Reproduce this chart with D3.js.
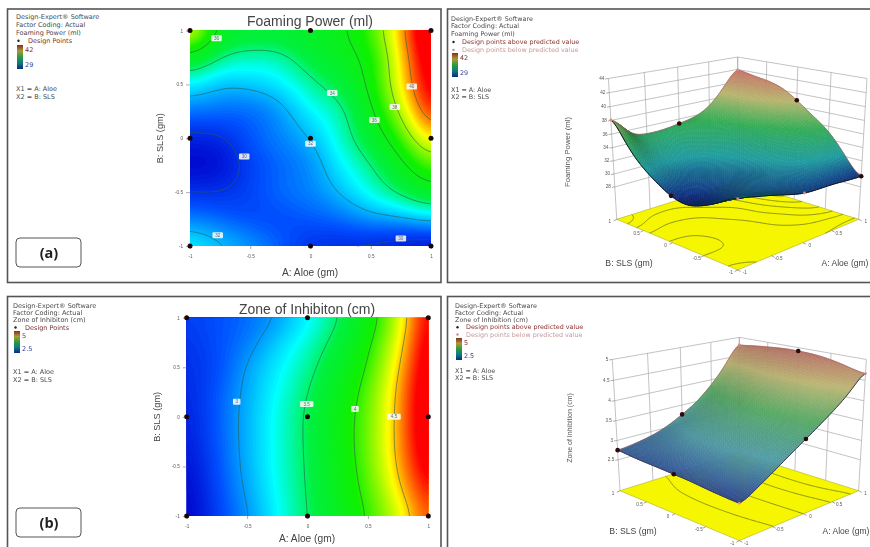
<!DOCTYPE html>
<html>
<head>
<meta charset="utf-8">
<script src="https://cdn.jsdelivr.net/npm/d3@7"></script>
<style>
html, body { margin: 0; padding: 0; background: #fff; }
svg { display: block; filter: blur(0.5px); font-family: "Liberation Sans", Arial, sans-serif; }
</style>
</head>
<body>
<svg id="fig" width="870" height="547"></svg>
<script>
var svg = d3.select("#fig");

// rows run from B = 1 (top) to B = -1, columns from A = -1 to A = 1
const foamGrid = [
  [39.5, 35.7, 35.2, 35.2, 35.4, 35.8, 37.1, 39.6, 42.6],
  [35.6, 33.9, 33.5, 33.6, 34.8, 35.5, 36.4, 39.2, 42.0],
  [32.9, 32.1, 32.3, 32.7, 33.7, 34.7, 36.3, 39.0, 41.6],
  [31.1, 31.0, 30.9, 31.6, 32.9, 33.6, 35.8, 38.2, 41.0],
  [29.7, 29.8, 30.7, 31.3, 32.0, 33.4, 35.0, 37.0, 39.4],
  [29.2, 29.3, 30.3, 30.9, 31.4, 32.8, 33.9, 35.6, 37.4],
  [30.0, 30.0, 30.4, 31.0, 31.3, 32.1, 33.2, 34.3, 35.5],
  [31.3, 30.9, 30.5, 30.5, 30.7, 31.0, 31.6, 31.8, 32.4],
  [33.0, 32.3, 31.7, 30.8, 30.0, 29.8, 29.6, 29.3, 29.0]
];
const zoneGrid = [
  [2.75, 2.80, 2.88, 3.00, 3.23, 3.47, 3.85, 4.30, 4.90],
  [2.70, 2.80, 2.92, 3.14, 3.33, 3.60, 3.95, 4.38, 4.95],
  [2.68, 2.78, 3.02, 3.22, 3.42, 3.70, 4.02, 4.47, 4.97],
  [2.65, 2.82, 3.05, 3.27, 3.49, 3.78, 4.10, 4.53, 5.00],
  [2.62, 2.83, 3.07, 3.30, 3.53, 3.84, 4.13, 4.55, 5.00],
  [2.60, 2.82, 3.07, 3.30, 3.53, 3.84, 4.14, 4.55, 4.98],
  [2.55, 2.80, 3.06, 3.30, 3.52, 3.82, 4.12, 4.52, 4.92],
  [2.52, 2.77, 3.03, 3.28, 3.51, 3.80, 4.07, 4.44, 4.82],
  [2.50, 2.74, 2.98, 3.25, 3.50, 3.75, 4.02, 4.32, 4.72]
];
const foamLevels = [30, 32, 34, 36, 38, 40];
const zoneLevels = [3, 3.5, 4, 4.5];
const axisTicks = [-1, -0.5, 0, 0.5, 1];
const foamZTicks = [28, 30, 32, 34, 36, 38, 40, 42, 44];
const zoneZTicks = [2.5, 3, 3.5, 4, 4.5, 5];

// contour labels
const foamLabelA = [-0.78, 0.18, 0.84, 0.70, 0.53, 0, -0.55, -0.77, 0.75];
const foamLabelB = [0.93, 0.42, 0.48, 0.29, 0.17, -0.05, -0.17, -0.90, -0.93];
const foamLabelT = ["36", "34", "40", "38", "36", "32", "30", "32", "30"];
const zoneLabelA = [-0.586, -0.007, 0.393, 0.716];
const zoneLabelB = [0.153, 0.13, 0.08, 0];
const zoneLabelT = ["3", "3.5", "4", "4.5"];

// design points
const designA = [-1, 0, 1, -1, 0, 1, -1, 0, 1];
const designB = [1, 1, 1, 0, 0, 0, -1, -1, -1];
const foamAbove = [0, 1, 0, 1, 0, 1, 0, 0, 1];
const zoneAbove = [1, 1, 0, 1, 0, 1, 0, 1, 0];

const mapOffsets = [0, 0.12, 0.3, 0.42, 0.58, 0.76, 0.92, 1];
const mapStops = ["#0000c8", "#0050ff", "#00ffff", "#00f040", "#10f000", "#ffff00", "#ff0000", "#ff0000"];
const surfOffsets = [0, 0.25, 0.5, 0.75, 1];
const foamSurfStops = ["#0a1670", "#1b8a8e", "#2b9a4c", "#a3a262", "#b0655c"];
const zoneSurfStops = ["#2a3f8c", "#4a8e98", "#4f9a5c", "#a8a268", "#a5605c"];

const fieldSize = 130;

function catmull(p0, p1, p2, p3, t) {
  return 0.5 * (2 * p1 + (p2 - p0) * t + (2 * p0 - 5 * p1 + 4 * p2 - p3) * t * t + (3 * p1 - p0 - 3 * p2 + p3) * t * t * t);
}

// smooth reading of a grid at (a, b)
function sample(grid, a, b) {
  var n = grid.length - 1;
  var c = Math.min(Math.max((a + 1) / 2 * n, 0), n);
  var r = Math.min(Math.max((1 - b) / 2 * n, 0), n);
  var c1 = Math.min(Math.floor(c), n - 1), r1 = Math.min(Math.floor(r), n - 1);
  var tx = c - c1, ty = r - r1;
  function g(i, j) { return grid[Math.min(Math.max(i, 0), n)][Math.min(Math.max(j, 0), n)]; }
  var rows = [-1, 0, 1, 2].map(k => catmull(g(r1 + k, c1 - 1), g(r1 + k, c1), g(r1 + k, c1 + 1), g(r1 + k, c1 + 2), tx));
  return catmull(rows[0], rows[1], rows[2], rows[3], ty);
}

// hand-read values wobble, so the drawing uses a blurred fine copy
function makeField(grid) {
  var n = fieldSize;
  var vals = new Float64Array(n * n);
  for (var j = 0; j < n; j++) {
    for (var i = 0; i < n; i++) {
      vals[j * n + i] = sample(grid, -1 + 2 * i / (n - 1), 1 - 2 * j / (n - 1));
    }
  }
  d3.blur2({ data: vals, width: n, height: n }, 6);
  var at = function (a, b) {
    var x = Math.min(Math.max((a + 1) / 2 * (n - 1), 0), n - 1);
    var y = Math.min(Math.max((1 - b) / 2 * (n - 1), 0), n - 1);
    var x0 = Math.min(Math.floor(x), n - 2), y0 = Math.min(Math.floor(y), n - 2);
    var tx = x - x0, ty = y - y0;
    return (vals[y0 * n + x0] * (1 - tx) + vals[y0 * n + x0 + 1] * tx) * (1 - ty) +
      (vals[(y0 + 1) * n + x0] * (1 - tx) + vals[(y0 + 1) * n + x0 + 1] * tx) * ty;
  };
  at.vals = Array.from(vals);
  return at;
}

function stopScale(lo, hi, offsets, stops) {
  return d3.scaleLinear().domain(offsets.map(o => lo + (hi - lo) * o)).range(stops).clamp(true);
}

function cellToAB(c) {
  var n = fieldSize;
  return [
    Math.min(Math.max(-1 + 2 * (c[0] - 0.5) / (n - 1), -1), 1),
    Math.min(Math.max(1 - 2 * (c[1] - 0.5) / (n - 1), -1), 1)
  ];
}

// iso lines of a contour set, leaving out the stretches along the plot edge
function isoLines(d, toScreen) {
  var out = "";
  d.coordinates.forEach(poly => poly.forEach(ring => {
    var pts = ring.map(cellToAB), cur = "";
    for (var i = 1; i < pts.length; i++) {
      var p = pts[i - 1], q = pts[i];
      if ((Math.abs(p[0]) === 1 && p[0] === q[0]) || (Math.abs(p[1]) === 1 && p[1] === q[1])) {
        out += cur; cur = ""; continue;
      }
      var s = toScreen(p[0], p[1]), e = toScreen(q[0], q[1]);
      if (!cur) cur = "M" + s[0] + "," + s[1];
      cur += "L" + e[0] + "," + e[1];
    }
    out += cur;
  }));
  return out;
}

function frame(x0, y0, x1, y1) {
  svg.append("rect").attr("x", x0).attr("y", y0).attr("width", x1 - x0).attr("height", y1 - y0)
    .attr("fill", "#fff").attr("stroke", "#555").attr("stroke-width", 1.6);
}

function sideNotes(cfg) {
  var g = svg.append("g").attr("transform", `translate(${cfg.x},0)`)
    .attr("font-family", "'DejaVu Sans', sans-serif").attr("font-size", cfg.size).attr("fill", "#4a4a4a");
  cfg.lines.forEach((t, i) => g.append("text").attr("y", cfg.y + i * cfg.gap).text(t));
  cfg.pointLines.forEach((p, i) => {
    var y = cfg.y + (cfg.lines.length + i) * cfg.gap;
    g.append("circle").attr("cx", 2.5).attr("cy", y - 2.2).attr("r", 1.2).attr("fill", p.dot);
    g.append("text").attr("x", cfg.pointX).attr("y", y).attr("fill", p.color).text(p.text);
  });
  var grad = svg.append("defs").append("linearGradient").attr("id", cfg.id)
    .attr("x1", 0).attr("y1", 0).attr("x2", 0).attr("y2", 1);
  ["#8e2a1a", "#a89a3a", "#2d9a3f", "#0f7a82", "#0b2a80"].forEach((c, i) =>
    grad.append("stop").attr("offset", i / 4).attr("stop-color", c));
  g.append("rect").attr("x", 1).attr("y", cfg.barY).attr("width", 6).attr("height", cfg.barH).attr("fill", `url(#${cfg.id})`);
  g.append("text").attr("x", 9).attr("y", cfg.barY + 6.5).attr("fill", "#7a3030").text(cfg.hi);
  g.append("text").attr("x", 9).attr("y", cfg.barY + cfg.barH - 2).attr("fill", "#33408a").text(cfg.lo);
  g.append("text").attr("y", cfg.factorY).text("X1 = A: Aloe");
  g.append("text").attr("y", cfg.factorY + 7.6).text("X2 = B: SLS");
}

function tagBox(x, y, label) {
  svg.append("rect").attr("x", x).attr("y", y).attr("width", 65).attr("height", 29).attr("rx", 4)
    .attr("fill", "#fff").attr("stroke", "#555").attr("stroke-width", 1);
  svg.append("text").attr("x", x + 33).attr("y", y + 20).attr("text-anchor", "middle")
    .attr("font-family", "'Open Sans', sans-serif").attr("font-weight", 700).attr("font-size", 14.5).attr("fill", "#222").text(label);
}

function tidyAxis(sel) {
  sel.select(".domain").remove();
  sel.selectAll(".tick line").attr("stroke", "#777").attr("stroke-width", 0.6);
  sel.selectAll(".tick text").attr("font-size", 4.6).attr("fill", "#555").attr("font-family", "inherit");
}

function contourMap(cfg) {
  var x = d3.scaleLinear().domain([-1, 1]).range(cfg.xRange);
  var y = d3.scaleLinear().domain([-1, 1]).range(cfg.yRange);
  var n = fieldSize;
  var field = makeField(cfg.grid);
  var color = stopScale(cfg.lo, cfg.hi, mapOffsets, mapStops);
  var toXY = (a, b) => [x(a), y(b)];
  var path = d3.geoPath(d3.geoTransform({
    point: function (cx, cy) {
      var ab = cellToAB([cx, cy]);
      this.stream.point(x(ab[0]), y(ab[1]));
    }
  }));
  var g = svg.append("g");

  g.append("rect").attr("x", x(-1)).attr("y", y(1)).attr("width", x(1) - x(-1)).attr("height", y(-1) - y(1)).attr("fill", color(cfg.lo));
  var bands = d3.range(cfg.lo, cfg.hi, (cfg.hi - cfg.lo) / 110);
  g.selectAll("path.band").data(d3.contours().size([n, n]).thresholds(bands)(field.vals)).enter().append("path")
    .attr("class", "band").attr("d", path).attr("fill", d => color(d.value));

  g.selectAll("path.level").data(d3.contours().size([n, n]).thresholds(cfg.levels)(field.vals)).enter().append("path")
    .attr("class", "level").attr("d", d => isoLines(d, toXY)).attr("fill", "none")
    .attr("stroke", "#2c5a46").attr("stroke-opacity", 0.75).attr("stroke-width", 0.8);

  g.append("g").attr("transform", `translate(0,${y(-1)})`)
    .call(d3.axisBottom(x).tickValues(axisTicks).tickSize(3).tickPadding(6).tickFormat(d => d))
    .call(tidyAxis);
  g.append("g").attr("transform", `translate(${x(-1)},0)`)
    .call(d3.axisLeft(y).tickValues(axisTicks).tickSize(4).tickPadding(3).tickFormat(d => d))
    .call(tidyAxis);

  cfg.labelT.forEach((t, i) => {
    var w = t.length * 3 + 4.5;
    g.append("rect").attr("x", x(cfg.labelA[i]) - w / 2).attr("y", y(cfg.labelB[i]) - 3).attr("width", w).attr("height", 6)
      .attr("rx", 1).attr("fill", "#fff").attr("fill-opacity", 0.85);
    g.append("text").attr("x", x(cfg.labelA[i])).attr("y", y(cfg.labelB[i]) + 1.6).attr("text-anchor", "middle")
      .attr("font-size", 4.6).attr("fill", "#667").text(t);
  });

  g.selectAll("circle").data(designA).enter().append("circle")
    .attr("cx", d => x(d)).attr("cy", (d, i) => y(designB[i])).attr("r", 2.5).attr("fill", "#1a0606");

  svg.append("text").attr("x", cfg.titleX).attr("y", cfg.titleY).attr("text-anchor", "middle")
    .attr("font-size", 14).attr("fill", "#444").text(cfg.title);
  svg.append("text").attr("x", cfg.titleX).attr("y", cfg.xLabelY).attr("text-anchor", "middle")
    .attr("font-size", 10.2).attr("fill", "#444").text("A: Aloe (gm)");
  svg.append("text").attr("transform", `translate(${cfg.yLabelX},${(cfg.yRange[0] + cfg.yRange[1]) / 2}) rotate(-90)`)
    .attr("text-anchor", "middle").attr("font-size", 9.2).attr("fill", "#444").text("B: SLS (gm)");
}

function surfacePlot(cfg) {
  var Z = d3.scaleLinear().domain([cfg.floor, cfg.top]).range([0, cfg.zt]);
  var S = Math.sin(cfg.elev), C = Math.cos(cfg.elev);
  var rt = Math.SQRT1_2;
  function project(a, b, z) {
    var X = (a - b) * rt, D = (a + b) * rt, h = Z(z);
    var w = cfg.dist + D * C - h * S;
    return [cfg.cx + cfg.f * X / w, cfg.cy - cfg.f * (h * C + D * S) / w];
  }
  var field = makeField(cfg.grid);
  var g = svg.append("g");
  var line = d3.line();

  // walls
  var wall = g.append("g").attr("fill", "none").attr("stroke", "#a9a9a9").attr("stroke-width", 0.7);
  axisTicks.forEach(t => {
    wall.append("path").attr("d", line([project(t, 1, cfg.floor), project(t, 1, cfg.top)]));
    wall.append("path").attr("d", line([project(1, t, cfg.floor), project(1, t, cfg.top)]));
  });
  cfg.zTicks.forEach(z => {
    wall.append("path").attr("d", line([project(-1, 1, z), project(1, 1, z), project(1, -1, z)]));
    var p = project(-1, 1, z);
    g.append("path").attr("d", line([p, [p[0] - 3, p[1] + 0.5]])).attr("stroke", "#777").attr("stroke-width", 0.6);
    g.append("text").attr("x", p[0] - 4).attr("y", p[1] + 1.5).attr("text-anchor", "end")
      .attr("font-size", 4.6).attr("fill", "#555").text(z);
  });

  // yellow floor with its contours
  g.append("path").attr("d", line([project(-1, 1, cfg.floor), project(1, 1, cfg.floor), project(1, -1, cfg.floor), project(-1, -1, cfg.floor)]) + "Z")
    .attr("fill", "#f6f600").attr("stroke", "#b9b92a").attr("stroke-width", 0.7);
  g.selectAll("path.iso").data(d3.contours().size([fieldSize, fieldSize]).thresholds(cfg.levels)(field.vals)).enter().append("path")
    .attr("class", "iso").attr("d", d => isoLines(d, (a, b) => project(a, b, cfg.floor))).attr("fill", "none")
    .attr("stroke", "#6e7a1c").attr("stroke-width", 0.8);

  // floor ticks on the two front edges
  axisTicks.forEach(t => {
    var p = project(t, -1, cfg.floor);
    g.append("path").attr("d", line([p, [p[0] + 3, p[1] + 1.6]])).attr("stroke", "#666").attr("stroke-width", 0.6);
    g.append("text").attr("x", p[0] + 7).attr("y", p[1] + 4).attr("text-anchor", "middle").attr("font-size", 4.6).attr("fill", "#555").text(t);
    var q = project(-1, -t, cfg.floor);
    g.append("path").attr("d", line([q, [q[0] - 3, q[1] + 1.6]])).attr("stroke", "#666").attr("stroke-width", 0.6);
    g.append("text").attr("x", q[0] - 7).attr("y", q[1] + 4).attr("text-anchor", "middle").attr("font-size", 4.6).attr("fill", "#555").text(-t);
  });

  // surface painted back to front
  var color = stopScale(cfg.lo, cfg.hi, surfOffsets, cfg.stops);
  var m = 64, quads = [];
  var step = 2 / m;
  var zUnit = cfg.zt / (cfg.top - cfg.floor);
  for (var j = 0; j < m; j++) {
    for (var i = 0; i < m; i++) {
      var a0 = -1 + i * step, b0 = -1 + j * step, a1 = a0 + step, b1 = b0 + step;
      var v00 = field(a0, b0), v10 = field(a1, b0), v01 = field(a0, b1), v11 = field(a1, b1);
      var dA = (v10 + v11 - v00 - v01) / 2 / step * zUnit, dB = (v01 + v11 - v00 - v10) / 2 / step * zUnit;
      var nX = -(dA - dB) * rt, nD = -(dA + dB) * rt, nZ = 1;
      var len = Math.hypot(nX, nD, nZ);
      quads.push({
        depth: a0 + b0,
        v: (v00 + v10 + v01 + v11) / 4,
        lit: (-0.75 * nD + 0.66 * nZ) / len,
        pts: [project(a0, b0, v00), project(a1, b0, v10), project(a1, b1, v11), project(a0, b1, v01)]
      });
    }
  }
  quads.sort((p, q) => q.depth - p.depth);
  function shade(d) {
    var c = d3.rgb(color(d.v));
    var k = Math.min(Math.max(cfg.litBase + cfg.litGain * d.lit, 0.35), 1.12);
    return d3.rgb(c.r * k, c.g * k, c.b * k).formatHex();
  }
  g.selectAll("path.quad").data(quads).enter().append("path")
    .attr("class", "quad")
    .attr("d", d => line(d.pts) + "Z")
    .attr("fill", shade)
    .attr("stroke", shade)
    .attr("stroke-width", 0.5);

  // surface outline, darker along the front
  var edgeLine = (fn) => d3.range(-1, 1.001, 0.05).map(fn);
  g.append("path").attr("d", line(edgeLine(t => project(-1, t, field(-1, t))))).attr("fill", "none").attr("stroke", cfg.frontEdge).attr("stroke-width", 1);
  g.append("path").attr("d", line(edgeLine(t => project(t, -1, field(t, -1))))).attr("fill", "none").attr("stroke", cfg.frontEdge).attr("stroke-width", 1);
  g.append("path").attr("d", line(edgeLine(t => project(t, 1, field(t, 1))))).attr("fill", "none").attr("stroke", "#a85c5c").attr("stroke-width", 0.6);
  g.append("path").attr("d", line(edgeLine(t => project(1, t, field(1, t))))).attr("fill", "none").attr("stroke", "#a85c5c").attr("stroke-width", 0.6);

  // design points, skipping the centre one that sits under the surface
  designA.forEach((a, i) => {
    if (a === 0 && designB[i] === 0) return;
    var p = project(a, designB[i], field(a, designB[i]));
    g.append("circle").attr("cx", p[0]).attr("cy", p[1]).attr("r", cfg.above[i] ? 2.3 : 1.4)
      .attr("fill", cfg.above[i] ? "#2a0a0a" : "#d88a8a");
  });

  svg.append("text").attr("transform", `translate(${cfg.zLabelX},${cfg.zLabelY}) rotate(-90)`)
    .attr("text-anchor", "middle").attr("font-size", cfg.zLabelSize).attr("fill", "#555").text(cfg.zLabel);
  svg.append("text").attr("x", cfg.bLabelX).attr("y", cfg.axisLabelY).attr("text-anchor", "middle")
    .attr("font-size", 8.7).attr("fill", "#444").text("B: SLS (gm)");
  svg.append("text").attr("x", cfg.aLabelX).attr("y", cfg.axisLabelY).attr("text-anchor", "middle")
    .attr("font-size", 8.5).attr("fill", "#444").text("A: Aloe (gm)");
}

frame(7.5, 9, 441, 282.5);
frame(447.5, 9, 880, 282.5);
frame(7.5, 296.5, 441, 560);
frame(447.5, 296.5, 880, 560);

sideNotes({ id: "lgA", x: 16, y: 19, gap: 8, size: 6.5, barY: 45, barH: 24, lines: ["Design-Expert® Software", "Factor Coding: Actual", "Foaming Power (ml)"], pointX: 12,
  pointLines: [{ dot: "#222", color: "#7a3030", text: "Design Points" }], hi: "42", lo: "29", factorY: 91 });
sideNotes({ id: "lgB", x: 451, y: 20.5, gap: 7.9, size: 6.4, barY: 53, barH: 24, lines: ["Design-Expert® Software", "Factor Coding: Actual", "Foaming Power (ml)"], pointX: 11,
  pointLines: [{ dot: "#222", color: "#8a3030", text: "Design points above predicted value" }, { dot: "#c88", color: "#c79a9a", text: "Design points below predicted value" }], hi: "42", lo: "29", factorY: 91.5 });
sideNotes({ id: "lgC", x: 13, y: 307.5, gap: 7.4, size: 6.5, barY: 331, barH: 22, lines: ["Design-Expert® Software", "Factor Coding: Actual", "Zone of Inhibiton (cm)"], pointX: 12,
  pointLines: [{ dot: "#222", color: "#7a3030", text: "Design Points" }], hi: "5", lo: "2.5", factorY: 374 });
sideNotes({ id: "lgD", x: 455, y: 307.5, gap: 7.3, size: 6.4, barY: 338, barH: 22, lines: ["Design-Expert® Software", "Factor Coding: Actual", "Zone of Inhibition (cm)"], pointX: 11,
  pointLines: [{ dot: "#222", color: "#8a3030", text: "Design points above predicted value" }, { dot: "#c88", color: "#c79a9a", text: "Design points below predicted value" }], hi: "5", lo: "2.5", factorY: 372.5 });

tagBox(16, 238, "(a)");
tagBox(16, 508, "(b)");

contourMap({ grid: foamGrid, lo: 29, hi: 42, levels: foamLevels, xRange: [190, 431], yRange: [246, 30.6],
  labelA: foamLabelA, labelB: foamLabelB, labelT: foamLabelT,
  title: "Foaming Power (ml)", titleX: 310, titleY: 26, xLabelY: 276, yLabelX: 163 });
contourMap({ grid: zoneGrid, lo: 2.5, hi: 5, levels: zoneLevels, xRange: [186.7, 428.3], yRange: [516, 317.7],
  labelA: zoneLabelA, labelB: zoneLabelB, labelT: zoneLabelT,
  title: "Zone of Inhibiton (cm)", titleX: 307, titleY: 314, xLabelY: 542, yLabelX: 160 });

surfacePlot({ grid: foamGrid, lo: 29, hi: 42, stops: foamSurfStops, levels: foamLevels, floor: 22.9, top: 44, zTicks: foamZTicks, above: foamAbove,
  elev: 21 * Math.PI / 180, dist: 9.2, f: 787, zt: 1.65, cx: 737.7, cy: 219.3, litBase: 0.4, litGain: 0.85, frontEdge: "#10131c",
  zLabel: "Foaming Power (ml)", zLabelSize: 7.8, zLabelX: 570, zLabelY: 152, bLabelX: 629, aLabelX: 845, axisLabelY: 266 });
surfacePlot({ grid: zoneGrid, lo: 2.5, hi: 5, stops: zoneSurfStops, levels: zoneLevels, floor: 1.68, top: 5, zTicks: zoneZTicks, above: zoneAbove,
  elev: 21 * Math.PI / 180, dist: 9.2, f: 776, zt: 1.565, cx: 739.3, cy: 490.7, litBase: 0.5, litGain: 0.7, frontEdge: "#3a3a55",
  zLabel: "Zone of Inhibition (cm)", zLabelSize: 7, zLabelX: 572, zLabelY: 428, bLabelX: 633, aLabelX: 846, axisLabelY: 534 });
</script>
</body>
</html>
